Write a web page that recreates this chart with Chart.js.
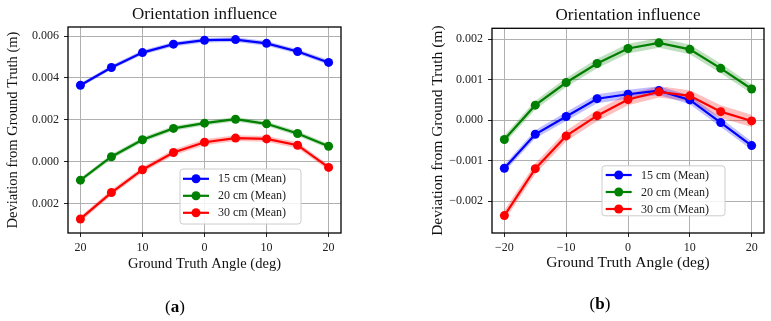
<!DOCTYPE html>
<html>
<head>
<meta charset="utf-8">
<script src="https://cdn.jsdelivr.net/npm/chart.js@4.4.1/dist/chart.umd.min.js"></script>
<style>
  body { margin: 0; width: 771px; height: 321px; background: #fff; position: relative; overflow: hidden; font-family: 'Liberation Serif', serif; }
  canvas { position: absolute; top: 0; }
  #chartA { left: 0; }
  #chartB { left: 425px; }
  .cap { position: absolute; font-size: 17px; transform: translateX(-50%); white-space: nowrap; }
</style>
</head>
<body>
<canvas id="chartA" width="385" height="321"></canvas>
<canvas id="chartB" width="346" height="321"></canvas>
<div class="cap" style="left:175px;top:297px">(<b>a</b>)</div>
<div class="cap" style="left:600px;top:294px">(<b>b</b>)</div>
<script>
// shared
var angles = [-20, -15, -10, -5, 0, 5, 10, 15, 20];
var seriesNames = ['15 cm (Mean)', '20 cm (Mean)', '30 cm (Mean)'];
var seriesColors = ['#0000ff', '#008000', '#ff0000'];
var bandColors = ['rgba(0,0,255,0.25)', 'rgba(0,128,0,0.25)', 'rgba(255,0,0,0.25)'];
var xTicks = [-20, -10, 0, 10, 20];

// (a)
var aBlue  = [0.00365, 0.00450, 0.00521, 0.00561, 0.00580, 0.00583, 0.00565, 0.00526, 0.00474];
var aGreen = [-0.00088, 0.00024, 0.00105, 0.00159, 0.00184, 0.00203, 0.00181, 0.00135, 0.00074];
var aRed   = [-0.00273, -0.00147, -0.00038, 0.00044, 0.00093, 0.00113, 0.00109, 0.00079, -0.00027];
var aBlueStd  = [0.00009, 0.00010, 0.00011, 0.00011, 0.00011, 0.00011, 0.00011, 0.00011, 0.00011];
var aGreenStd = [0.00011, 0.00012, 0.00012, 0.00011, 0.00011, 0.00011, 0.00011, 0.00012, 0.00011];
var aRedStd   = [0.00013, 0.00013, 0.00013, 0.00014, 0.00014, 0.00014, 0.00014, 0.00014, 0.00013];
var aYTicks = [-0.002, 0, 0.002, 0.004, 0.006];

// (b)
var bBlue  = [-0.00119, -0.00035, 0.00009, 0.00053, 0.00064, 0.00073, 0.00050, -0.00006, -0.00063];
var bGreen = [-0.00048, 0.00037, 0.00093, 0.00140, 0.00177, 0.00191, 0.00175, 0.00128, 0.00077];
var bRed   = [-0.00236, -0.00120, -0.00039, 0.00011, 0.00051, 0.00070, 0.00060, 0.00021, -0.00002];
var bBlueStd  = [0.00009, 0.00010, 0.00011, 0.00011, 0.00011, 0.00011, 0.00011, 0.00011, 0.00010];
var bGreenStd = [0.00010, 0.00011, 0.00011, 0.00012, 0.00012, 0.00012, 0.00012, 0.00012, 0.00011];
var bRedStd   = [0.00013, 0.00013, 0.00013, 0.00014, 0.00014, 0.00014, 0.00014, 0.00016, 0.00015];
var bYTicks = [-0.002, -0.001, 0, 0.001, 0.002];

const FONT = "'Liberation Serif', 'Times New Roman', serif";

const toPoints = (vals) => angles.map((a, j) => ({x: a, y: vals[j]}));

const buildDatasets = (means, stds) => {
  var sets = [];
  // main lines first so they are painted on top; red on top of the rest
  for (var i = means.length - 1; i >= 0; i--) {
    sets.push({
      label: seriesNames[i],
      data: toPoints(means[i]),
      borderColor: seriesColors[i],
      backgroundColor: seriesColors[i],
      borderWidth: 2.2,
      pointRadius: 4.5,
      pointBorderWidth: 0,
      fill: false
    });
  }
  for (var i = 0; i < means.length; i++) {
    var lo = means[i].map((v, j) => v - stds[i][j]);
    var hi = means[i].map((v, j) => v + stds[i][j]);
    sets.push({ data: toPoints(lo), borderWidth: 0, pointRadius: 0, fill: false });
    sets.push({ data: toPoints(hi), borderWidth: 0, pointRadius: 0, fill: '-1', backgroundColor: bandColors[i] });
  }
  return sets;
};

// black frame round the plot + matplotlib-like legend box
const framePlugin = {
  id: 'frame',
  afterDraw(chart, args, opts) {
    const {ctx, chartArea} = chart;
    ctx.save();
    ctx.strokeStyle = '#000';
    ctx.lineWidth = 1.3;
    ctx.strokeRect(chartArea.left, chartArea.top, chartArea.right - chartArea.left, chartArea.bottom - chartArea.top);

    const bx = chartArea.left + opts.dx, by = chartArea.top + opts.dy;
    ctx.beginPath();
    ctx.roundRect(bx, by, opts.w, opts.h, 3);
    ctx.fillStyle = 'rgba(255,255,255,0.85)';
    ctx.fill();
    ctx.strokeStyle = '#cccccc';
    ctx.lineWidth = 1;
    ctx.stroke();

    ctx.font = opts.fontSize + 'px ' + FONT;
    ctx.textBaseline = 'middle';
    ctx.textAlign = 'left';
    for (var i = 0; i < seriesNames.length; i++) {
      var y = by + opts.rows[i];
      ctx.strokeStyle = seriesColors[i];
      ctx.lineWidth = 2.2;
      ctx.beginPath();
      ctx.moveTo(bx + opts.lineFrom, y);
      ctx.lineTo(bx + opts.lineTo, y);
      ctx.stroke();
      ctx.fillStyle = seriesColors[i];
      ctx.beginPath();
      ctx.arc(bx + (opts.lineFrom + opts.lineTo) / 2, y, 4.5, 0, Math.PI * 2);
      ctx.fill();
      ctx.fillStyle = '#222';
      ctx.fillText(seriesNames[i], bx + opts.textX, y + 0.5);
    }
    ctx.restore();
  }
};

const makeChart = (canvasId, cfg) => {
  return new Chart(document.getElementById(canvasId), {
    type: 'line',
    data: { datasets: buildDatasets(cfg.means, cfg.stds) },
    plugins: [framePlugin],
    options: {
      responsive: false,
      animation: false,
      events: [],
      layout: { padding: { left: 0, right: cfg.padRight, top: 0, bottom: cfg.padBottom } },
      plugins: {
        legend: { display: false },
        tooltip: { enabled: false },
        title: {
          display: true,
          text: 'Orientation influence',
          fullSize: false,
          color: '#111',
          font: { family: FONT, size: 17, weight: 'normal' },
          padding: cfg.titlePad
        },
        frame: cfg.legend
      },
      scales: {
        x: {
          type: 'linear',
          min: -22,
          max: 22,
          afterBuildTicks: (s) => { s.ticks = xTicks.map(v => ({value: v})); },
          afterFit: (s) => { s.height = cfg.xHeight; },
          ticks: {
            color: '#222',
            padding: 4,
            maxRotation: 0,
            font: { family: FONT, size: cfg.tickSize },
            callback: cfg.xLabel
          },
          grid: { color: '#b0b0b0', lineWidth: 1, tickColor: '#222', tickLength: 4 },
          border: { display: false },
          title: {
            display: true,
            text: 'Ground Truth Angle (deg)',
            color: '#111',
            padding: { top: 0, bottom: 0 },
            font: { family: FONT, size: cfg.titleSize }
          }
        },
        y: {
          min: cfg.yMin,
          max: cfg.yMax,
          afterBuildTicks: (s) => { s.ticks = cfg.yTicks.map(v => ({value: v})); },
          afterFit: (s) => { s.width = cfg.yWidth; },
          ticks: {
            color: '#222',
            padding: 5,
            font: { family: FONT, size: cfg.tickSize },
            callback: cfg.yLabel
          },
          grid: { color: '#b0b0b0', lineWidth: 1, tickColor: '#222', tickLength: 4 },
          border: { display: false },
          title: {
            display: true,
            text: 'Deviation from Ground Truth (m)',
            color: '#111',
            padding: { top: 4, bottom: 4 },
            font: { family: FONT, size: cfg.titleSize }
          }
        }
      }
    }
  });
};

// (a) was exported without minus glyphs, so labels show absolute values
makeChart('chartA', {
  means: [aBlue, aGreen, aRed],
  stds: [aBlueStd, aGreenStd, aRedStd],
  yTicks: aYTicks,
  yMin: -0.0034, yMax: 0.00643,
  padRight: 44, padBottom: 48,
  xHeight: 40, yWidth: 68,
  tickSize: 12, titleSize: 14.5,
  titlePad: { top: 4, bottom: 2.6 },
  xLabel: (v) => String(Math.abs(v)),
  yLabel: (v) => Math.abs(v).toFixed(3),
  legend: { dx: 112, dy: 142, w: 121, h: 55, rows: [9.8, 26.8, 43.8], lineFrom: 3, lineTo: 29, textX: 38, fontSize: 12 }
});

makeChart('chartB', {
  means: [bBlue, bGreen, bRed],
  stds: [bBlueStd, bGreenStd, bRedStd],
  yTicks: bYTicks,
  yMin: -0.00279, yMax: 0.00227,
  padRight: 7, padBottom: 49,
  xHeight: 39, yWidth: 67,
  tickSize: 12, titleSize: 15.5,
  titlePad: { top: 5.5, bottom: 2.4 },
  xLabel: (v) => (v < 0 ? '\u2212' + Math.abs(v) : String(v)),
  yLabel: (v) => (v < 0 ? '\u2212' + Math.abs(v).toFixed(3) : v.toFixed(3)),
  legend: { dx: 110, dy: 137.5, w: 123, h: 50, rows: [9.2, 26.2, 43.2], lineFrom: 3.7, lineTo: 29.7, textX: 39, fontSize: 12 }
});
</script>
</body>
</html>
